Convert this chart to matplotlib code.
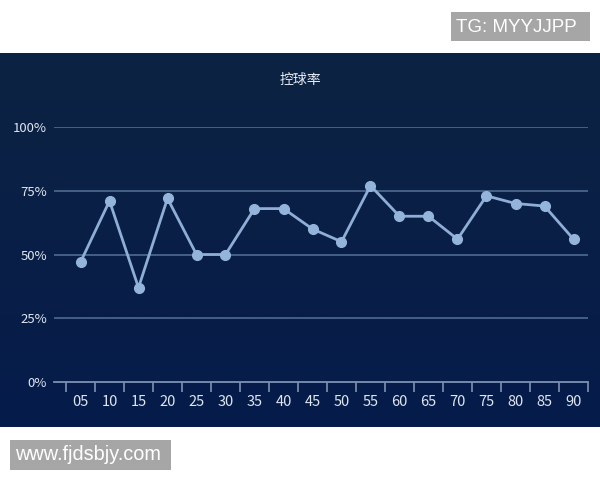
import numpy as np
import matplotlib
matplotlib.use('Agg')
import matplotlib.pyplot as plt
from matplotlib.colors import LinearSegmentedColormap
from matplotlib.patches import Rectangle

plt.rcParams['font.family'] = ['Noto Sans CJK SC', 'DejaVu Sans']

# data
minutes = ['05', '10', '15', '20', '25', '30', '35', '40', '45',
           '50', '55', '60', '65', '70', '75', '80', '85', '90']
possession = [47, 71, 37, 72, 50, 50, 68, 68, 60,
              55, 77, 65, 65, 56, 73, 70, 69, 56]
y_ticks = [0, 25, 50, 75, 100]
y_labels = ['0%', '25%', '50%', '75%', '100%']

W, H = 600, 480
fig = plt.figure(figsize=(6, 4.8), dpi=100, facecolor='white')

# dark panel with a slight vertical gradient
bg = fig.add_axes([0, 1 - 427 / H, 1, (427 - 53) / H], zorder=0)
cmap = LinearSegmentedColormap.from_list('panel', ['#0c2343', '#0a1f47', '#051b4b'])
grad = np.linspace(0, 1, 256).reshape(-1, 1)
bg.imshow(grad, aspect='auto', cmap=cmap, extent=[0, 1, 0, 1], origin='upper')
bg.set_axis_off()

# plot area
ax = fig.add_axes([54 / W, 1 - 382 / H, (588 - 54) / W, (382 - 127) / H], zorder=1)
ax.patch.set_alpha(0)
x = np.arange(len(minutes))
ax.set_xlim(-0.5 - 12 / 29, len(minutes) - 0.5)
ax.set_ylim(0, 100)

for yt in y_ticks[1:]:
    ax.axhline(yt, color='#4f6b92', lw=1.2, zorder=1)

ax.plot(x, possession, color='#8eaed6', lw=2, marker='o', ms=7,
        mfc='#94b4dc', mec='#94b4dc', zorder=3, clip_on=False)

for s in ['top', 'right', 'left']:
    ax.spines[s].set_visible(False)
ax.spines['bottom'].set_color('#7d93b2')
ax.spines['bottom'].set_linewidth(1.3)

ax.set_yticks(y_ticks)
ax.set_yticklabels(y_labels)
ax.tick_params(axis='y', length=0, pad=5, labelsize=9.5, labelcolor='#dfe6f0')

ax.set_xticks(x)
ax.set_xticklabels(minutes)
ax.tick_params(axis='x', which='major', length=0, pad=9, labelsize=10.5, labelcolor='#dfe6f0')
ax.set_xticks(np.arange(len(minutes) + 1) - 0.5, minor=True)
ax.tick_params(axis='x', which='minor', length=7, width=1.2, color='#7d93b2')

fig.text(300 / W, 1 - 80 / H, '控球率', ha='center', va='center',
         color='#e6ebf3', fontsize=10)

# watermark boxes
fig.patches.append(Rectangle((451 / W, 1 - 41 / H), 139 / W, 29 / H,
                             transform=fig.transFigure, fc='#a6a6a6', ec='none'))
fig.text(456 / W, 1 - 27 / H, 'TG: MYYJJPP', ha='left', va='center',
         color='white', fontsize=13.5, family=['Liberation Sans', 'DejaVu Sans'])
fig.patches.append(Rectangle((10 / W, 1 - 470 / H), 161 / W, 30 / H,
                             transform=fig.transFigure, fc='#a6a6a6', ec='none'))
fig.text(15 / W, 1 - 455 / H, 'www.fjdsbjy.com', ha='left', va='center',
         color='white', fontsize=14.3, family=['Liberation Sans', 'DejaVu Sans'])

fig.savefig('out.png', dpi=100, facecolor='white')
